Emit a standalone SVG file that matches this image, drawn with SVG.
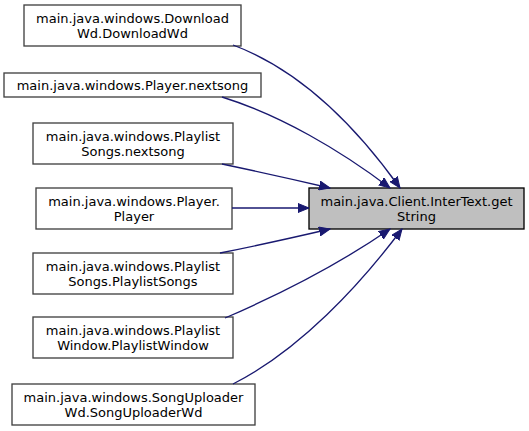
<svg xmlns="http://www.w3.org/2000/svg" width="529" height="431" viewBox="0 0 529 431">
<style>
.n rect{fill:#ffffff;stroke:#404040;stroke-width:1.33}
.r rect{fill:#bfbfbf;stroke:#000000;stroke-width:1.33}
text{font-family:"DejaVu Sans",sans-serif;font-size:13px;text-anchor:middle;fill:#000000}
.e path{fill:none;stroke:#191970;stroke-width:1.33;marker-end:url(#ah)}
</style>
<defs>
<marker id="ah" markerUnits="userSpaceOnUse" markerWidth="12" markerHeight="10" refX="11" refY="5" orient="auto">
<path d="M0,0.5 L11,5 L0,9.5 z" fill="#191970" stroke="#191970" stroke-width="1"/>
</marker>
</defs>
<rect width="529" height="431" fill="#ffffff"/>
<g id="target" class="r">
<rect x="309" y="188" width="215" height="41"/>
<text x="416.5" y="206">main.java.Client.InterText.get</text>
<text x="416.5" y="221">String</text>
</g>
<g id="n1" class="n">
<rect x="24" y="5" width="217" height="41"/>
<text x="132.5" y="23">main.java.windows.Download</text>
<text x="132.5" y="38">Wd.DownloadWd</text>
</g>
<g id="n2" class="n">
<rect x="4" y="73" width="257" height="24"/>
<text x="132.5" y="89.5">main.java.windows.Player.nextsong</text>
</g>
<g id="n3" class="n">
<rect x="33" y="123" width="200" height="41"/>
<text x="133" y="141">main.java.windows.Playlist</text>
<text x="133" y="156">Songs.nextsong</text>
</g>
<g id="n4" class="n">
<rect x="36" y="188" width="196" height="41"/>
<text x="134" y="206">main.java.windows.Player.</text>
<text x="134" y="221">Player</text>
</g>
<g id="n5" class="n">
<rect x="33" y="253" width="200" height="41"/>
<text x="133" y="271">main.java.windows.Playlist</text>
<text x="133" y="286">Songs.PlaylistSongs</text>
</g>
<g id="n6" class="n">
<rect x="33" y="317" width="200" height="41"/>
<text x="133" y="335">main.java.windows.Playlist</text>
<text x="133" y="350">Window.PlaylistWindow</text>
</g>
<g id="n7" class="n">
<rect x="12" y="384" width="243" height="41"/>
<text x="133.5" y="402">main.java.windows.SongUploader</text>
<text x="133.5" y="417">Wd.SongUploaderWd</text>
</g>
<g id="edges" class="e">
<path d="M233,45 C300,70 355,125 400,188"/>
<path d="M222,97 C280,115 340,150 390,188"/>
<path d="M222,164 C260,172 300,181 330,188"/>
<path d="M232,208 L309,208"/>
<path d="M220,253 C260,245 300,236 330,229"/>
<path d="M225,318 C290,290 345,260 390,229"/>
<path d="M233,384 C300,350 360,285 402,229"/>
</g>
</svg>
